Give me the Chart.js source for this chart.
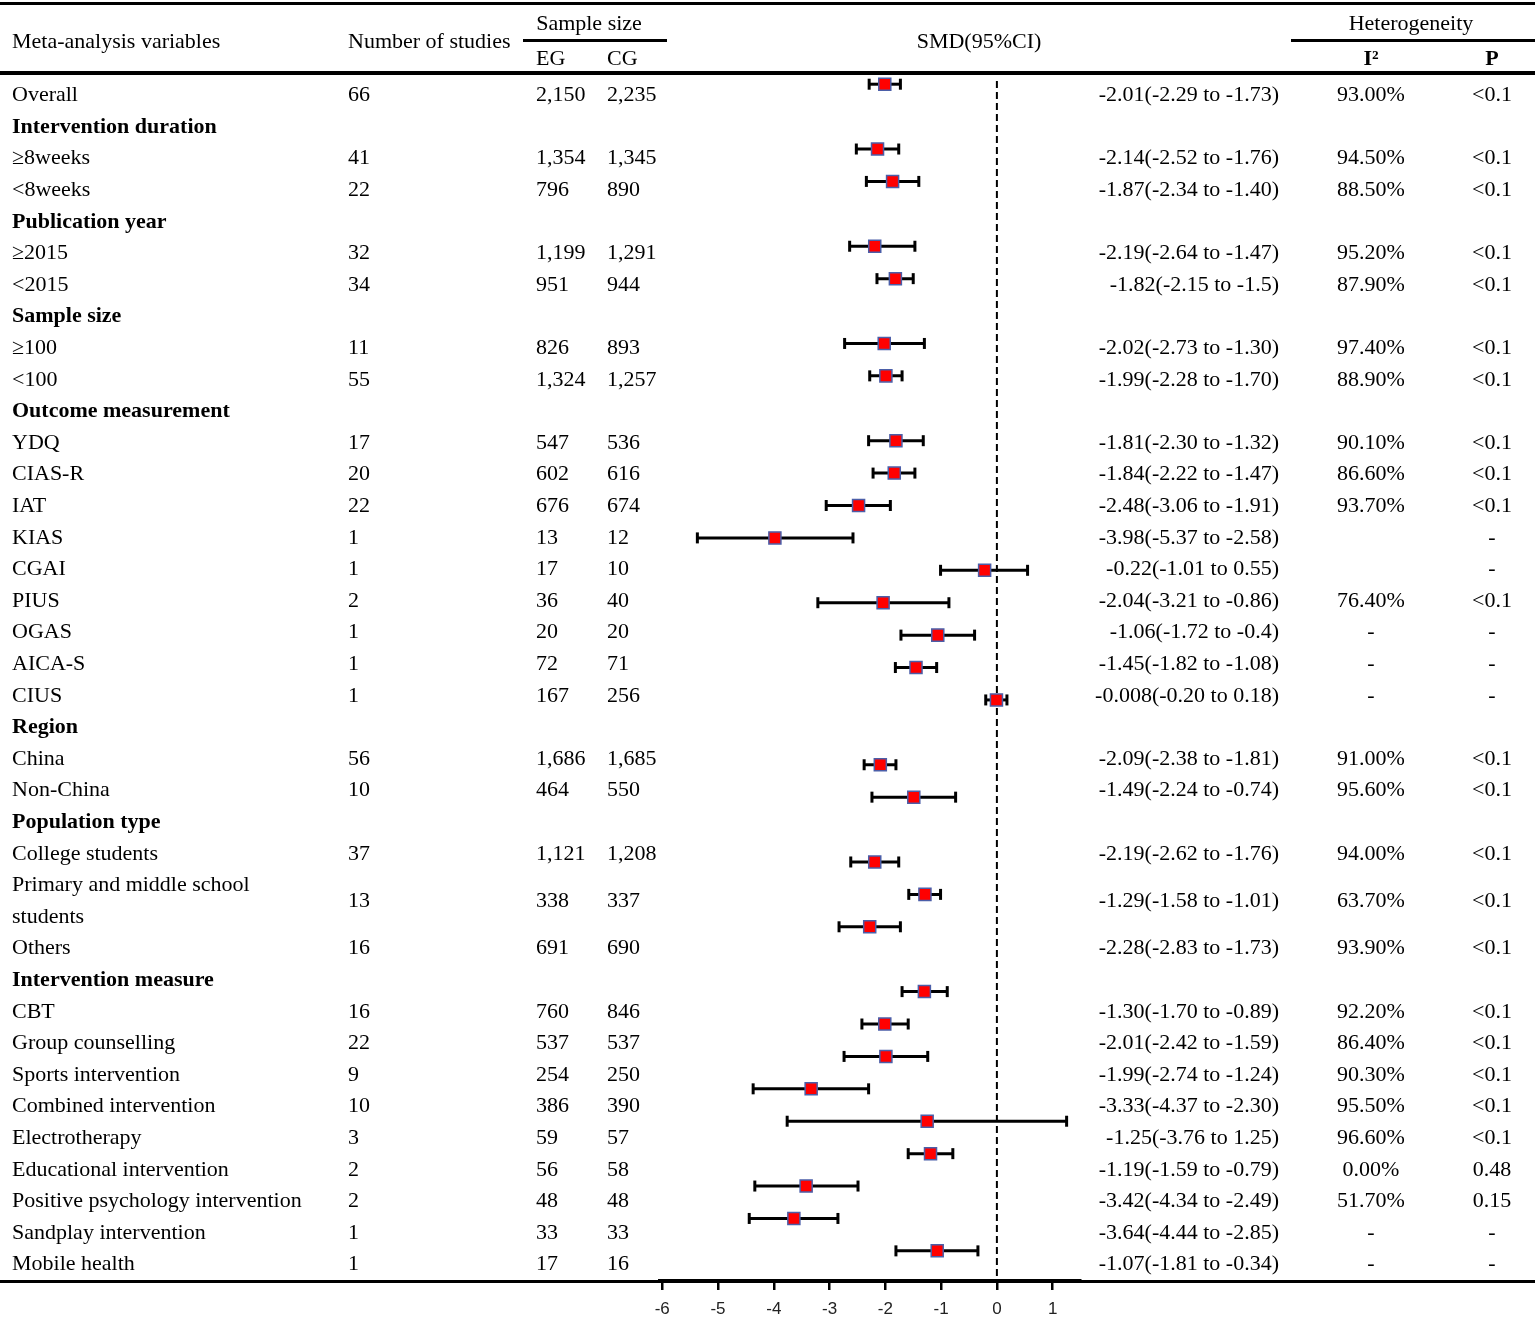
<!DOCTYPE html>
<html lang="en">
<head>
    <meta charset="UTF-8">
    <title>Subgroup meta-analysis forest plot</title>
    <script src="https://cdn.jsdelivr.net/npm/chart.js"></script>
    <style>
        body {
            margin: 0;
            background: #fff;
        }
        #page {
            position: relative;
            width: 1535px;
            height: 1328px;
            font-family: "Liberation Serif", "Times New Roman", serif;
            font-size: 22px;
            color: #000;
            overflow: hidden;
        }
        #forest {
            position: absolute;
            left: 0;
            top: 0;
        }
        .rule {
            position: absolute;
            background: #000;
        }
        .cell {
            position: absolute;
            white-space: pre;
            z-index: 2;
        }
        .center { text-align: center; }
        .right { text-align: right; }
        .bold { font-weight: bold; }
    </style>
</head>
<body>

<div id="page">
    <canvas id="forest" width="1535" height="1328"></canvas>
</div>

<script>
    // table rows, in drawing order (null = group heading row)
    const labels = ['Overall', 'Intervention duration', '\u22658weeks', '<8weeks', 'Publication year', '\u22652015', '<2015',
        'Sample size', '\u2265100', '<100', 'Outcome measurement', 'YDQ', 'CIAS-R', 'IAT', 'KIAS', 'CGAI', 'PIUS', 'OGAS',
        'AICA-S', 'CIUS', 'Region', 'China', 'Non-China', 'Population type', 'College students',
        'Primary and middle school\nstudents', 'Others', 'Intervention measure', 'CBT', 'Group counselling',
        'Sports intervention', 'Combined intervention', 'Electrotherapy', 'Educational intervention',
        'Positive psychology intervention', 'Sandplay intervention', 'Mobile health'];
    const studies = [66, null, 41, 22, null, 32, 34, null, 11, 55, null, 17, 20, 22, 1, 1, 2, 1, 1, 1, null,
        56, 10, null, 37, 13, 16, null, 16, 22, 9, 10, 3, 2, 2, 1, 1];
    const egSize = ['2,150', null, '1,354', '796', null, '1,199', '951', null, '826', '1,324', null,
        '547', '602', '676', '13', '17', '36', '20', '72', '167', null, '1,686', '464', null,
        '1,121', '338', '691', null, '760', '537', '254', '386', '59', '56', '48', '33', '17'];
    const cgSize = ['2,235', null, '1,345', '890', null, '1,291', '944', null, '893', '1,257', null,
        '536', '616', '674', '12', '10', '40', '20', '71', '256', null, '1,685', '550', null,
        '1,208', '337', '690', null, '846', '537', '250', '390', '57', '58', '48', '33', '16'];
    const smd = [-2.01, null, -2.14, -1.87, null, -2.19, -1.82, null, -2.02, -1.99, null,
        -1.81, -1.84, -2.48, -3.98, -0.22, -2.04, -1.06, -1.45, -0.008, null, -2.09, -1.49, null,
        -2.19, -1.29, -2.28, null, -1.30, -2.01, -1.99, -3.33, -1.25, -1.19, -3.42, -3.64, -1.07];
    const ciLow = [-2.29, null, -2.52, -2.34, null, -2.64, -2.15, null, -2.73, -2.28, null,
        -2.30, -2.22, -3.06, -5.37, -1.01, -3.21, -1.72, -1.82, -0.20, null, -2.38, -2.24, null,
        -2.62, -1.58, -2.83, null, -1.70, -2.42, -2.74, -4.37, -3.76, -1.59, -4.34, -4.44, -1.81];
    const ciHigh = [-1.73, null, -1.76, -1.40, null, -1.47, -1.5, null, -1.30, -1.70, null,
        -1.32, -1.47, -1.91, -2.58, 0.55, -0.86, -0.4, -1.08, 0.18, null, -1.81, -0.74, null,
        -1.76, -1.01, -1.73, null, -0.89, -1.59, -1.24, -2.30, 1.25, -0.79, -2.49, -2.85, -0.34];
    const smdText = ['-2.01(-2.29 to -1.73)', '', '-2.14(-2.52 to -1.76)', '-1.87(-2.34 to -1.40)', '',
        '-2.19(-2.64 to -1.47)', '-1.82(-2.15 to -1.5)', '', '-2.02(-2.73 to -1.30)', '-1.99(-2.28 to -1.70)', '',
        '-1.81(-2.30 to -1.32)', '-1.84(-2.22 to -1.47)', '-2.48(-3.06 to -1.91)', '-3.98(-5.37 to -2.58)',
        '-0.22(-1.01 to 0.55)', '-2.04(-3.21 to -0.86)', '-1.06(-1.72 to -0.4)', '-1.45(-1.82 to -1.08)',
        '-0.008(-0.20 to 0.18)', '', '-2.09(-2.38 to -1.81)', '-1.49(-2.24 to -0.74)', '',
        '-2.19(-2.62 to -1.76)', '-1.29(-1.58 to -1.01)', '-2.28(-2.83 to -1.73)', '',
        '-1.30(-1.70 to -0.89)', '-2.01(-2.42 to -1.59)', '-1.99(-2.74 to -1.24)', '-3.33(-4.37 to -2.30)',
        '-1.25(-3.76 to 1.25)', '-1.19(-1.59 to -0.79)', '-3.42(-4.34 to -2.49)', '-3.64(-4.44 to -2.85)',
        '-1.07(-1.81 to -0.34)'];
    const i2 = ['93.00%', '', '94.50%', '88.50%', '', '95.20%', '87.90%', '', '97.40%', '88.90%', '',
        '90.10%', '86.60%', '93.70%', '', '', '76.40%', '-', '-', '-', '', '91.00%', '95.60%', '',
        '94.00%', '63.70%', '93.90%', '', '92.20%', '86.40%', '90.30%', '95.50%', '96.60%', '0.00%',
        '51.70%', '-', '-'];
    const pValue = ['<0.1', '', '<0.1', '<0.1', '', '<0.1', '<0.1', '', '<0.1', '<0.1', '',
        '<0.1', '<0.1', '<0.1', '-', '-', '<0.1', '-', '-', '-', '', '<0.1', '<0.1', '',
        '<0.1', '<0.1', '<0.1', '', '<0.1', '<0.1', '<0.1', '<0.1', '<0.1', '0.48', '0.15', '-', '-'];
    const xTicks = [-6, -5, -4, -3, -2, -1, 0, 1];

    const page = document.getElementById('page');

    function addCell(text, left, top, width, height, cls) {
        const d = document.createElement('div');
        d.className = 'cell ' + (cls || '');
        d.textContent = text;
        d.style.left = left + 'px';
        d.style.top = top + 'px';
        if (width) d.style.width = width + 'px';
        d.style.height = height + 'px';
        d.style.lineHeight = height + 'px';
        page.appendChild(d);
        return d;
    }

    function addRule(left, top, width, height) {
        const r = document.createElement('div');
        r.className = 'rule';
        r.style.left = left + 'px';
        r.style.top = top + 'px';
        r.style.width = width + 'px';
        r.style.height = height + 'px';
        page.appendChild(r);
    }

    // rules of the table
    addRule(0, 2, 1535, 3);
    addRule(0, 71, 1535, 4);
    addRule(0, 1279.5, 1535, 3);
    addRule(523, 38.5, 144, 3);
    addRule(1291, 38.5, 244, 3);

    // header
    addCell('Meta-analysis variables', 12, 25, null, 32);
    addCell('Number of studies', 348, 25, null, 32);
    addCell('Sample size', 489, 7, 200, 32, 'center');
    addCell('EG', 536, 42, null, 32);
    addCell('CG', 607, 42, null, 32);
    addCell('SMD(95%CI)', 879, 25, 200, 32, 'center');
    addCell('Heterogeneity', 1311, 7, 200, 32, 'center');
    addCell('I\u00b2', 1321, 42, 100, 32, 'center bold');
    addCell('P', 1442, 42, 100, 32, 'center bold');

    // body rows
    const rowH = 31.6;
    let slot = 0;
    labels.forEach((lab, i) => {
        const lines = lab.split('\n').length;
        const top = 78.2 + slot * rowH;
        const h = lines * rowH;
        const lbl = addCell(lab, 12, top, null, h, studies[i] === null ? 'bold' : '');
        lbl.style.lineHeight = rowH + 'px';
        if (studies[i] !== null) {
            addCell(String(studies[i]), 348, top, null, h);
            addCell(egSize[i], 536, top, null, h);
            addCell(cgSize[i], 607, top, null, h);
            addCell(smdText[i], 1000, top, 279, h, 'right');
            addCell(i2[i], 1321, top, 100, h, 'center');
            addCell(pValue[i], 1442, top, 100, h, 'center');
        }
        slot += lines;
    });

    // forest plot: one point per estimate, one line per confidence interval
    const ciSets = [];
    const points = [];
    smd.forEach((v, i) => {
        if (v === null) return;
        points.push({x: v, y: i});
        ciSets.push({
            data: [{x: ciLow[i], y: i}, {x: ciHigh[i], y: i}],
            showLine: true,
            borderColor: '#000',
            borderWidth: 3,
            pointStyle: 'line',
            rotation: 90,
            pointRadius: 5.5,
            pointBorderWidth: 3,
            pointBorderColor: '#000',
            order: 1
        });
    });

    Chart.defaults.font.family = 'Liberation Sans';
    Chart.defaults.font.size = 17;

    const ctx = document.getElementById('forest').getContext('2d');
    new Chart(ctx, {
        type: 'scatter',
        data: {
            datasets: [
                {
                    data: points,
                    pointStyle: 'rect',
                    pointRadius: 8.5,
                    backgroundColor: '#ff0000',
                    borderColor: '#4b5ea8',
                    borderWidth: 1.5,
                    order: 0
                },
                ...ciSets,
                {
                    // line of no effect
                    data: [{x: 0, y: -0.1}, {x: 0, y: labels.length - 0.07}],
                    showLine: true,
                    borderColor: '#000',
                    borderWidth: 2,
                    borderDash: [7, 4],
                    pointRadius: 0,
                    order: 2
                }
            ]
        },
        options: {
            responsive: false,
            animation: false,
            events: [],
            layout: {
                padding: {left: 660, right: 455, top: 68, bottom: 0}
            },
            scales: {
                x: {
                    type: 'linear',
                    position: 'bottom',
                    min: -6.04,
                    max: 1.49,
                    afterBuildTicks: scale => { scale.ticks = xTicks.map(v => ({value: v})); },
                    afterFit: scale => { scale.height = 47; },
                    grid: {
                        drawOnChartArea: false,
                        drawTicks: true,
                        tickLength: 9,
                        color: '#000',
                        lineWidth: 2.5
                    },
                    border: {display: true, color: '#000', width: 4},
                    ticks: {
                        color: '#222',
                        font: {family: 'Liberation Sans', size: 17},
                        padding: 9,
                        maxRotation: 0,
                        autoSkip: false
                    }
                },
                y: {
                    type: 'linear',
                    display: false,
                    reverse: true,
                    min: -0.5,
                    max: labels.length - 0.07
                }
            },
            plugins: {
                legend: {display: false},
                tooltip: {enabled: false}
            }
        }
    });
</script>

</body>
</html>
